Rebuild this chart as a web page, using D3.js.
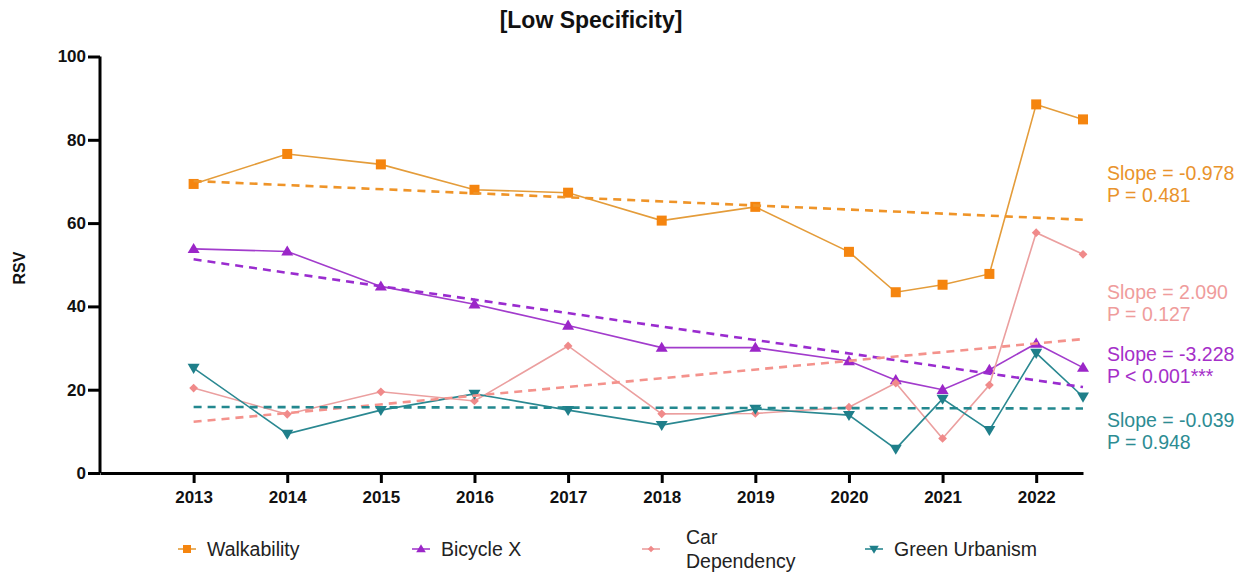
<!DOCTYPE html>
<html>
<head>
<meta charset="utf-8">
<script src="https://cdn.jsdelivr.net/npm/d3@7"></script>
<style>
  body { margin: 0; background: #fff; }
  svg { display: block; font-family: "Liberation Sans", Arial, sans-serif; }
</style>
</head>
<body>
<div id="chart"></div>
<script>
// time points (half-year steps after 2020)
const years = [2013, 2014, 2015, 2016, 2017, 2018, 2019, 2020, 2020.5, 2021, 2021.5, 2022, 2022.5];

const walkability   = [69.4, 76.6, 74.1, 68.0, 67.3, 60.6, 63.9, 53.1, 43.4, 45.2, 47.8, 88.5, 84.9];
const bicycleX      = [53.8, 53.2, 44.8, 40.5, 35.4, 30.1, 30.1, 26.9, 22.3, 20.0, 24.8, 31.1, 25.3];
const carDependency = [20.4, 14.1, 19.5, 17.3, 30.5, 14.2, 14.3, 15.8, 21.6, 8.3, 21.1, 57.7, 52.5];
const greenUrbanism = [25.2, 9.4, 15.1, 19.0, 15.1, 11.5, 15.4, 13.9, 5.8, 17.8, 10.3, 28.8, 18.3];

// regression lines: value at 2013 and slope per year
const trendStart = [70.1, 51.3, 12.3, 15.85];
const slopes     = [-0.978, -3.228, 2.090, -0.039];
const pLabels    = ['P = 0.481', 'P < 0.001***', 'P = 0.127', 'P = 0.948'];

const seriesNames = ['Walkability', 'Bicycle X', 'Car Dependency', 'Green Urbanism'];
const yTicks = [0, 20, 40, 60, 80, 100];
const xTicks = [2013, 2014, 2015, 2016, 2017, 2018, 2019, 2020, 2021, 2022];

const markerColors = ['#f5850f', '#9b26c8', '#f08a8a', '#1f7f8a'];
const lineColors   = ['#e49c3a', '#a23ccc', '#eb9f9f', '#2a8891'];
const dashColors   = ['#ef9428', '#9a2ccf', '#f4928c', '#23888f'];
const textColors   = ['#e9932c', '#a52fc9', '#ef9c9c', '#2d8c93'];
const symbols      = ['square', 'triUp', 'diamond', 'triDown'];

const W = 1248, H = 574;
const svg = d3.select('#chart').append('svg').attr('width', W).attr('height', H);

const x = d3.scaleLinear().domain([2012, 2022.5]).range([100, 1083]);
const y = d3.scaleLinear().domain([0, 100]).range([473, 56.5]);

// title
svg.append('text')
  .attr('x', 591).attr('y', 28)
  .attr('text-anchor', 'middle')
  .attr('font-size', '23px').attr('font-weight', 'bold').attr('fill', '#111')
  .text('[Low Specificity]');

// y axis label
svg.append('text')
  .attr('transform', 'translate(25,268) rotate(-90)')
  .attr('text-anchor', 'middle')
  .attr('font-size', '16px').attr('font-weight', 'bold').attr('fill', '#111')
  .text('RSV');

// axes
const yAxis = svg.append('g')
  .attr('transform', `translate(${x(2012)},0)`)
  .call(d3.axisLeft(y).tickValues(yTicks).tickSize(12).tickPadding(2));
const xAxis = svg.append('g')
  .attr('transform', `translate(0,${y(0)})`)
  .call(d3.axisBottom(x).tickValues(xTicks).tickFormat(d3.format('d')).tickSize(10).tickPadding(8).tickSizeOuter(0));

[yAxis, xAxis].forEach(a => {
  a.select('.domain').attr('stroke', '#000').attr('stroke-width', 3);
  a.selectAll('.tick line').attr('stroke', '#000').attr('stroke-width', 3);
  a.selectAll('.tick text')
    .attr('font-size', '17px').attr('font-weight', 'bold').attr('fill', '#111')
    .attr('font-family', '"Liberation Sans", Arial, sans-serif');
});
yAxis.select('.domain').attr('d', `M-0,${y(100)}V${y(0)}`);

function drawSymbol(g, type, cx, cy, color, s) {
  if (type === 'square') {
    g.append('rect').attr('x', cx - s / 2).attr('y', cy - s / 2).attr('width', s).attr('height', s).attr('fill', color);
  } else if (type === 'diamond') {
    const r = s * 0.55;
    g.append('path').attr('d', `M${cx},${cy - r}L${cx + r},${cy}L${cx},${cy + r}L${cx - r},${cy}Z`).attr('fill', color);
  } else if (type === 'triUp') {
    const r = s * 0.6;
    g.append('path').attr('d', `M${cx},${cy - r}L${cx + r},${cy + r * 0.7}L${cx - r},${cy + r * 0.7}Z`).attr('fill', color);
  } else {
    const r = s * 0.6;
    g.append('path').attr('d', `M${cx},${cy + r}L${cx + r},${cy - r * 0.7}L${cx - r},${cy - r * 0.7}Z`).attr('fill', color);
  }
}

const allSeries = [walkability, bicycleX, carDependency, greenUrbanism];
const line = d3.line().x(d => x(d[0])).y(d => y(d[1]));
const plot = svg.append('g');

allSeries.forEach((vals, i) => {
  const pts = years.map((yr, j) => [yr, vals[j]]);
  plot.append('path')
    .attr('d', line(pts))
    .attr('fill', 'none').attr('stroke', lineColors[i]).attr('stroke-width', 1.6);
  const mg = plot.append('g');
  pts.forEach(p => drawSymbol(mg, symbols[i], x(p[0]), y(p[1]), markerColors[i], i === 2 ? 8 : 10));
});

// dashed regression lines
allSeries.forEach((vals, i) => {
  const x0 = years[0], x1 = years[years.length - 1];
  const pts = [[x0, trendStart[i]], [x1, trendStart[i] + slopes[i] * (x1 - x0)]];
  plot.append('path')
    .attr('d', line(pts))
    .attr('fill', 'none').attr('stroke', dashColors[i])
    .attr('stroke-width', 2.6).attr('stroke-dasharray', '8,6');
});

// slope annotations
const annoY = [180, 361, 299, 427];
slopes.forEach((s, i) => {
  const t = svg.append('text').attr('x', 1107).attr('y', annoY[i])
    .attr('font-size', '19.5px').attr('fill', textColors[i]);
  t.append('tspan').attr('x', 1107).text(`Slope = ${s.toFixed(3)}`);
  t.append('tspan').attr('x', 1107).attr('dy', 22).text(pLabels[i]);
});

// legend
const legX = [187, 421, 651, 874];
const legend = svg.append('g');
seriesNames.forEach((name, i) => {
  const cx = legX[i], cy = 549;
  legend.append('line').attr('x1', cx - 9).attr('x2', cx + 9).attr('y1', cy).attr('y2', cy)
    .attr('stroke', lineColors[i]).attr('stroke-width', 1.6);
  drawSymbol(legend, symbols[i], cx, cy, markerColors[i], i === 2 ? 6 : 8);
  const t = legend.append('text').attr('x', cx + 20).attr('font-size', '19.5px').attr('fill', '#222');
  if (name === 'Car Dependency') {
    t.attr('x', cx + 35).attr('y', 544);
    t.append('tspan').attr('x', cx + 35).text('Car');
    t.append('tspan').attr('x', cx + 35).attr('dy', 24).text('Dependency');
  } else {
    t.attr('y', 556).text(name);
  }
});
</script>
</body>
</html>
